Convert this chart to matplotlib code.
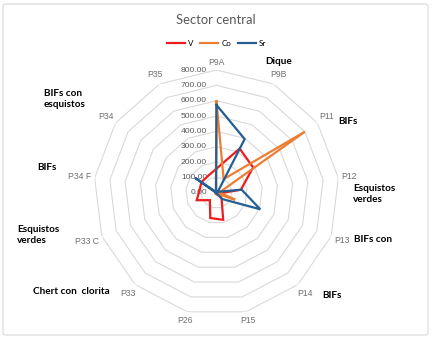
import numpy as np
import matplotlib
matplotlib.use("Agg")
import matplotlib.pyplot as plt
from matplotlib.patches import FancyBboxPatch
from matplotlib.lines import Line2D
import matplotlib.transforms as mtransforms

categories = ['P9A', 'P9B', 'P11', 'P12', 'P13', 'P14', 'P15', 'P26',
              'P33', 'P33 C', 'P34 F', 'P34', 'P35']
V = [157, 325, 290, 160, 15, 50, 182, 170, 65, 138, 112, 120, 122]
Co = [595, 100, 700, 20, 130, 10, 15, 10, 10, 10, 10, 10, 10]
Sr = [572, 395, 10, 165, 305, 55, 5, 5, 5, 5, 5, 170, 5]
series_names = ['V', 'Co', 'Sr']
rticks = [0, 100, 200, 300, 400, 500, 600, 700, 800]
rtick_labels = ['0.00', '100.00', '200.00', '300.00', '400.00', '500.00',
                '600.00', '700.00', '800.00']
title = 'Sector central'

colors = ['#ee1c1c', '#ed7d31', '#255e91']
grid_c = '#d9d9d9'
text_c = '#595959'
cat_c = '#6f6f6f'

W, H = 432, 339
fig = plt.figure(figsize=(W / 100, H / 100), dpi=100)

# chart border
fig.patches.append(FancyBboxPatch((3 / W, 4 / H), 425 / W, 331 / H,
                                  boxstyle='round,pad=0,rounding_size=0.006',
                                  transform=fig.transFigure, fill=False,
                                  edgecolor=grid_c, linewidth=0.8))

cx, cy, R = 216.5, H - 192.7, 122.7
ax = fig.add_axes([(cx - R) / W, (cy - R) / H, 2 * R / W, 2 * R / H],
                  projection='polar')
ax.set_theta_zero_location('N')
ax.set_theta_direction(-1)
ax.set_ylim(0, 800)
ax.grid(False)
ax.spines['polar'].set_visible(False)
ax.set_xticks([])
ax.set_yticks([])
ax.patch.set_alpha(0)

n = len(categories)
theta = np.linspace(0, 2 * np.pi, n, endpoint=False)
theta_c = np.append(theta, theta[0])

# polygon gridlines
for r in rticks[1:]:
    ax.plot(theta_c, [r] * (n + 1), color=grid_c, lw=0.8, zorder=1)

# radial tick labels
off = mtransforms.offset_copy(ax.transData, fig=fig, x=-9.5, y=0, units='dots')
for r, lab in zip(rticks, rtick_labels):
    ax.text(0, r, lab, transform=off, ha='right', va='center',
            fontsize=6.1, color=text_c, family='Liberation Sans', zorder=2)

# data
for vals, c, name in zip([V, Co, Sr], colors, series_names):
    ax.plot(theta_c, list(vals) + [vals[0]], color=c, lw=1.6, zorder=3,
            solid_joinstyle='miter', label=name)

# category labels
renderer = fig.canvas.get_renderer()
for t, lab in zip(theta, categories):
    s, c = np.sin(t), np.cos(t)
    tmp = fig.text(0, 0, lab, fontsize=6.2, family='Liberation Sans')
    bb = tmp.get_window_extent(renderer)
    tmp.remove()
    w, h = bb.width, bb.height
    d = R + 3 + abs(s) * w / 2 + abs(c) * h / 2
    x = cx + d * s
    y = cy + d * c
    fig.text(x / W, y / H, lab, fontsize=6.2, family='Liberation Sans',
             color=cat_c, ha='center', va='center')

# title
fig.text(216 / W, 1 - 20 / H, title, fontsize=9.4, color=text_c,
         ha='center', va='center', family='Lato')

# legend
handles = [Line2D([0], [0], color=c, lw=1.6) for c in colors]
fig.legend(handles, series_names, loc='center', bbox_to_anchor=(216.5 / W, 1 - 43 / H),
           ncol=3, frameon=False, handlelength=2.3,
           handletextpad=0.35, columnspacing=0.8, prop={'family': 'Lato', 'size': 5.8})

# annotations (bold)
notes = [
    ('Dique', 265, 61),
    ('BIFs', 338, 122),
    ('Esquistos\nverdes', 353, 194),
    ('BIFs con', 354, 239),
    ('BIFs', 322, 296),
    ('Chert con  clorita', 33, 291),
    ('Esquistos\nverdes', 17, 235),
    ('BIFs', 37, 168),
    ('BIFs con\nesquistos', 44, 99),
]
for txt, x, y in notes:
    fig.text(x / W, 1 - y / H, txt, fontsize=7.2, fontweight='bold',
             family='Lato', color='black', ha='left', va='center',
             linespacing=1.3)

fig.savefig('out.png', dpi=100)
